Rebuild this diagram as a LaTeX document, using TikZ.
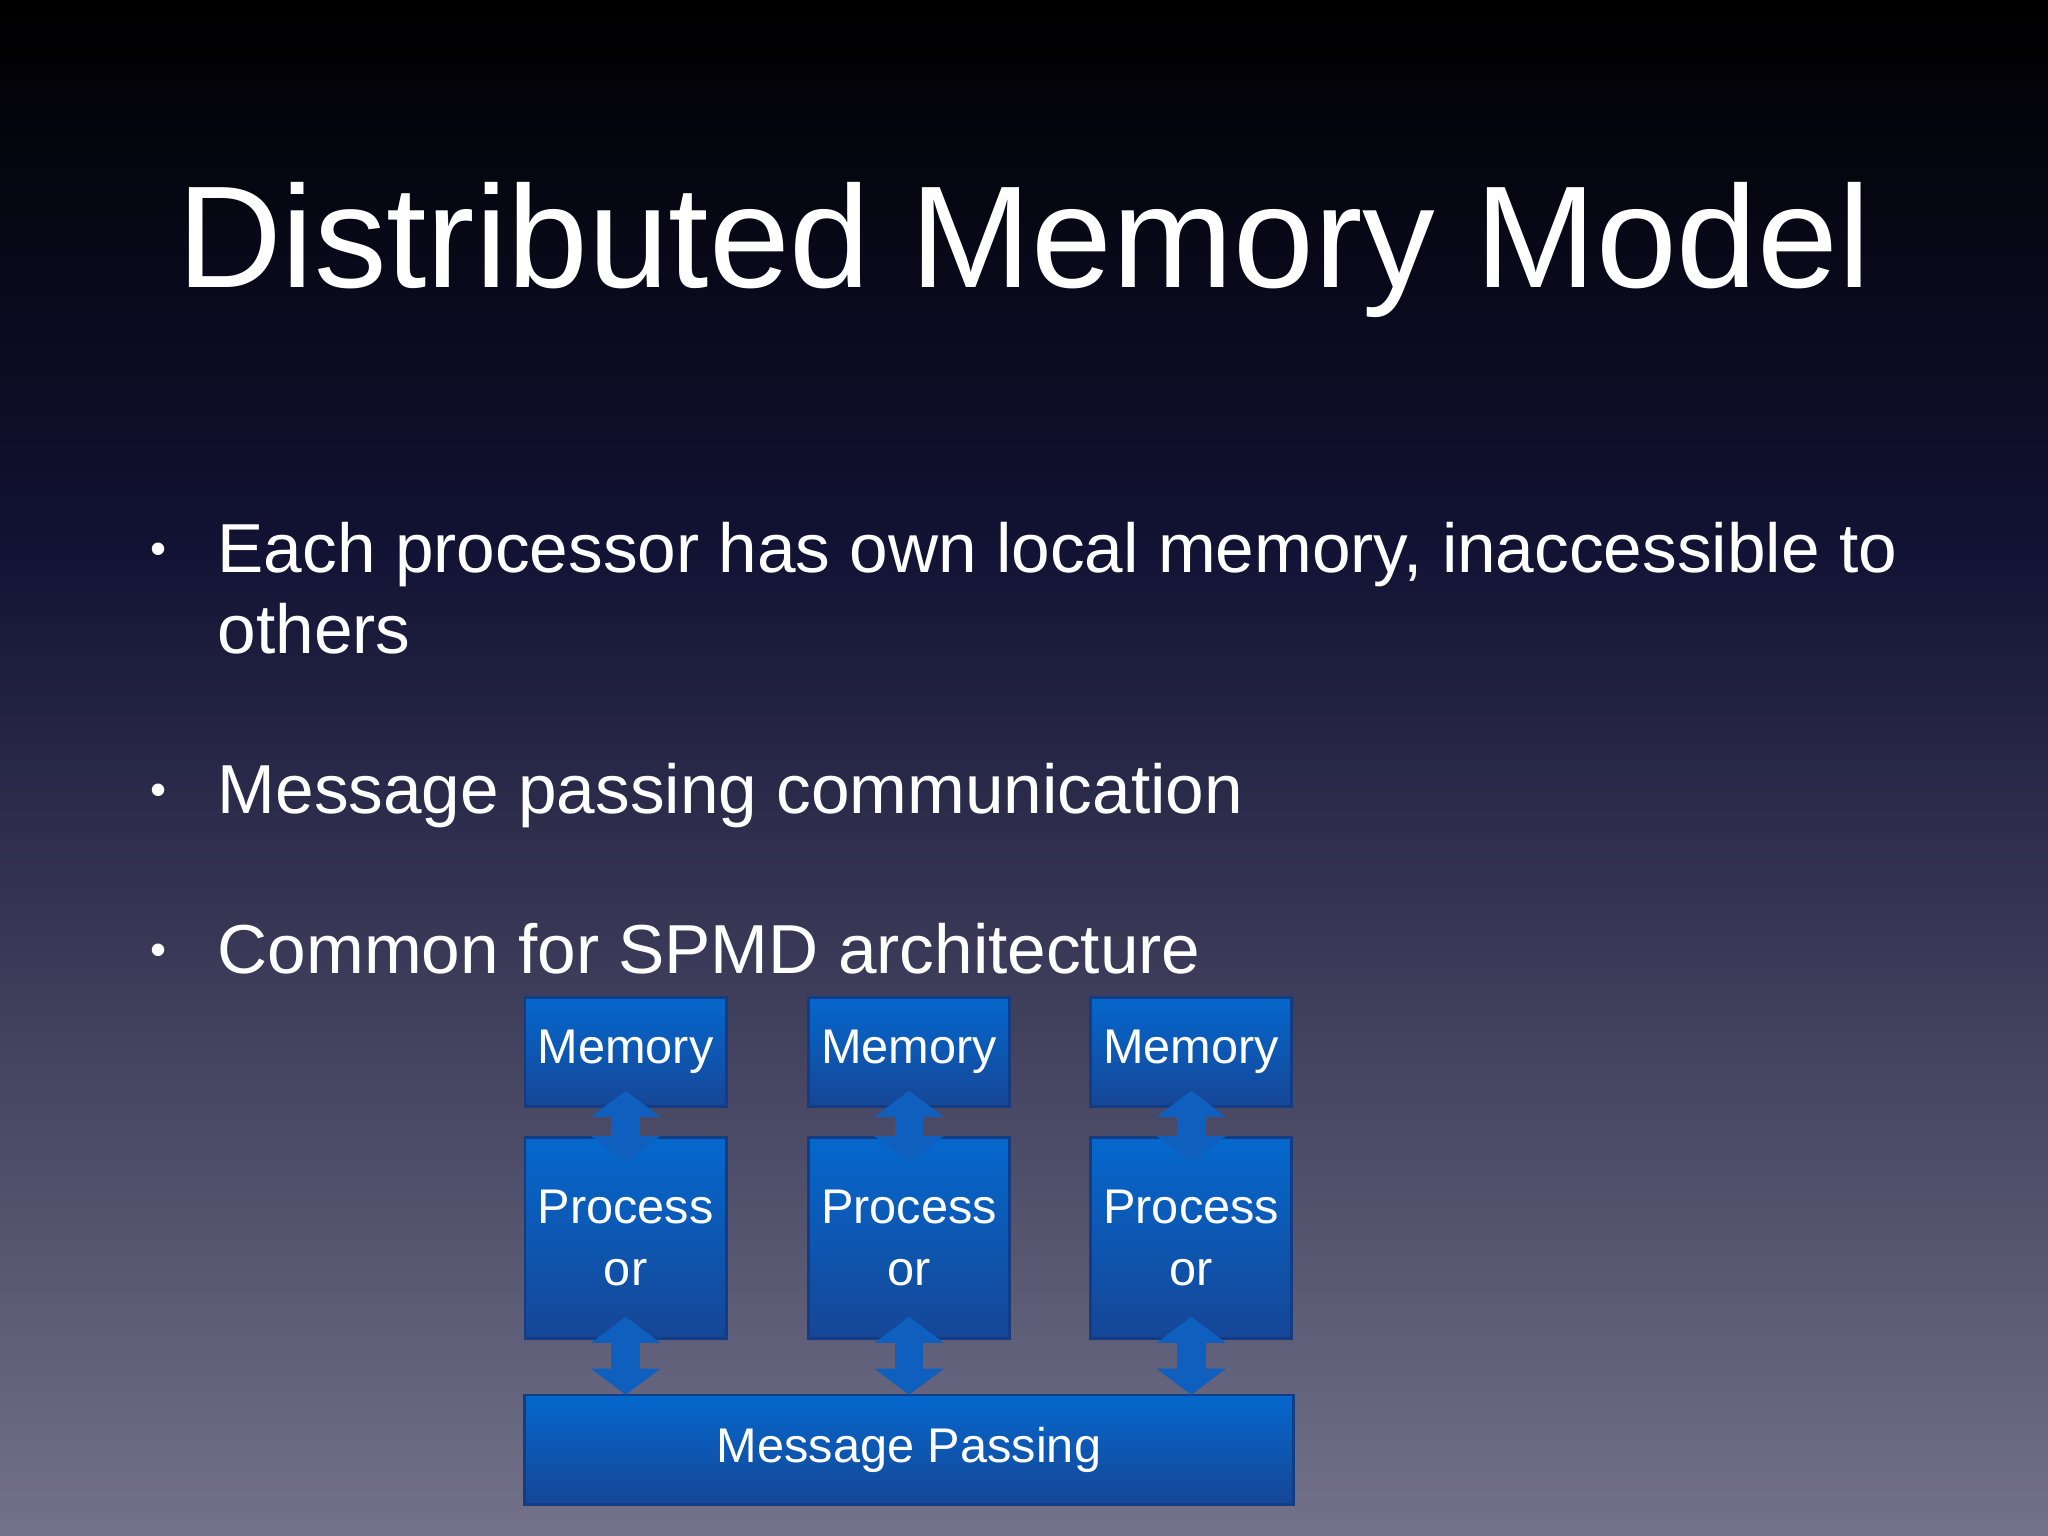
\documentclass[tikz,border=0pt]{standalone}
\usepackage{fontspec}
\setmainfont{Liberation Sans}
\usetikzlibrary{arrows.meta}
\definecolor{bgtop}{RGB}{0,0,0}
\definecolor{bgmid}{RGB}{18,18,52}
\definecolor{bgbot}{RGB}{115,114,138}
\definecolor{btop}{RGB}{5,104,205}
\definecolor{bbot}{RGB}{22,70,150}
\definecolor{bedge}{RGB}{20,60,130}
\definecolor{arr}{RGB}{15,95,190}
\tikzset{
  box/.style={rectangle, top color=btop, bottom color=bbot, draw=bedge, line width=0.6pt,
    minimum width=1.54cm, inner sep=0pt, text=white, align=center,
    font=\fontsize{10.6}{13.5}\selectfont},
  bullet/.style={anchor=base west, text=white, font=\fontsize{15.1}{17.6}\selectfont, inner sep=0pt},
  dot/.style={anchor=base, text=white, font=\fontsize{10}{12}\selectfont, inner sep=0pt},
  link/.style={arr, line width=0.22cm, {Triangle[length=0.2cm,width=0.52cm 0]}-{Triangle[length=0.2cm,width=0.52cm 0]}}
}
\begin{document}
\begin{tikzpicture}[x=0.01cm,y=-0.01cm]
\useasboundingbox (0,0) rectangle (1568,1176);
\shade[top color=bgtop, bottom color=bgmid] (0,0) rectangle (1568,420);
\shade[top color=bgmid, bottom color=bgbot] (0,419) rectangle (1568,1176);
\node[anchor=base, text=white, inner sep=0pt, font=\fontsize{31.6}{36}\selectfont] (title) at (784,220) {Distributed Memory Model};
\node[dot] (d1) at (121,432) {•};
\node[bullet] (b1) at (166,438) {Each processor has own local memory, inaccessible to};
\node[bullet] (b1b) at (166,500) {others};
\node[dot] (d2) at (121,617) {•};
\node[bullet] (b2) at (166,623) {Message passing communication};
\node[dot] (d3) at (121,739) {•};
\node[bullet] (b3) at (166,745) {Common for SPMD architecture};
\foreach \i/\x in {1/479,2/696,3/912}{
  \node[box, minimum height=0.83cm] (m\i) at (\x,805.5) {\raisebox{-2pt}{Memory}};
  \node[box, minimum height=1.54cm] (p\i) at (\x,948) {Process\\or};
}
\node[box, minimum width=5.88cm, minimum height=0.84cm] (mp) at (696,1110) {Message Passing};
\foreach \i in {1,2,3}{
  \draw[link] ([yshift=0.13cm]m\i.south) -- ([yshift=-0.2cm]p\i.north);
  \draw[link] ([yshift=0.18cm]p\i.south) -- ([yshift=-0.01cm]mp.north -| p\i.south);
}
\end{tikzpicture}
\end{document}
